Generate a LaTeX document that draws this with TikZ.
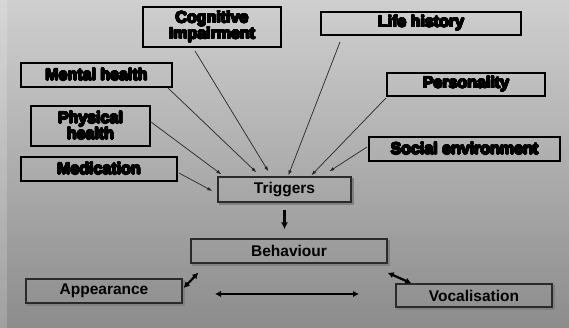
\documentclass[tikz,border=0pt]{standalone}
\usepackage{fontspec}
\setmainfont{Liberation Sans}
\usepackage{contour}
\contourlength{0.6pt}
\contournumber{24}
\usetikzlibrary{arrows.meta}
\definecolor{bgtop}{HTML}{CFCFCF}
\definecolor{bgmid}{HTML}{AAAAAA}
\definecolor{bgbot}{HTML}{8C8C8C}
\definecolor{lowborder}{HTML}{2A2A2A}
\newcommand{\hv}[1]{\contour{black}{#1}}
\begin{document}
\begin{tikzpicture}[x=1pt,y=-1pt,
  topbox/.style={draw=black, line width=2pt, rectangle, inner sep=0pt, align=center,
     font=\bfseries\fontsize{16}{16}\selectfont, text=black},
  lowbox/.style={draw=lowborder, line width=1.3pt, rectangle, inner sep=0pt,
     font=\bfseries\fontsize{15.5}{16}\selectfont, text=black},
  shadowline/.style={draw=black!50, line width=1.3pt},
  thinarrow/.style={draw=black!85, line width=0.7pt, -{Latex[length=5pt,width=3.5pt]}},
  thickarrow/.style={draw=black, line width=2.4pt, -{Latex[length=7pt,width=7pt]}},
  dblarrow/.style={draw=black, line width=2.2pt, {Latex[length=6pt,width=6.5pt]}-{Latex[length=6pt,width=6.5pt]}}
]
\useasboundingbox (0,0) rectangle (569,328);
% background
\fill[top color=bgtop, middle color=bgmid, bottom color=bgbot] (0,0) rectangle (569,328);
\fill[white, opacity=0.18] (0,0) rectangle (7,328);

% top boxes
\node[topbox, minimum width=138pt, minimum height=40pt] (cog) at (212,27) {\hv{Cognitive}\\\hv{Impairment}};
\node[topbox, minimum width=200pt, minimum height=23pt] (life) at (421,23.5) {\hv{Life history}};
\node[topbox, minimum width=151pt, minimum height=24pt] (mental) at (96.5,75) {\hv{Mental health}};
\node[topbox, minimum width=158pt, minimum height=23pt] (pers) at (466,84.5) {\hv{Personality}};
\node[topbox, minimum width=119pt, minimum height=40pt] (phys) at (90.5,126) {\hv{Physical}\\\hv{health}};
\node[topbox, minimum width=191pt, minimum height=24pt] (social) at (464.5,149) {\hv{Social environment}};
\node[topbox, minimum width=156pt, minimum height=24pt] (med) at (99,169) {\hv{Medication}};

% lower boxes
\node[lowbox, minimum width=133pt, minimum height=25pt] (trig) at (284.5,189.5) {Triggers};
\node[lowbox, minimum width=196pt, minimum height=24pt] (beh) at (289,251) {Behaviour};
\node[lowbox, minimum width=156pt, minimum height=24pt] (app) at (104,291) {Appearance};
\node[lowbox, minimum width=156pt, minimum height=23pt] (voc) at (474,295.5) {Vocalisation};
\foreach \n in {trig,beh,app,voc}{
  \draw[shadowline] ([shift={(1.3pt,-1.3pt)}]\n.north east) |- ([shift={(1.3pt,-1.3pt)}]\n.south west);
}

% arrows into Triggers
\draw[thinarrow] ([shift={(-17pt,-3pt)}]cog.south) -- ([shift={(51pt,5pt)}]trig.north west);
\draw[thinarrow] ([shift={(-5pt,0pt)}]mental.south east) -- ([shift={(39pt,4pt)}]trig.north west);
\draw[thinarrow] ([shift={(0pt,4pt)}]phys.east) -- ([shift={(4pt,2pt)}]trig.north west);
\draw[thinarrow] ([shift={(1pt,-4pt)}]med.east) -- ([shift={(-5pt,-1.5pt)}]trig.west);
\draw[thinarrow] ([shift={(20pt,-6pt)}]life.south west) -- ([shift={(71pt,1pt)}]trig.north west);
\draw[thinarrow] ([shift={(0pt,-1pt)}]pers.south west) -- ([shift={(94pt,1pt)}]trig.north west);
\draw[thinarrow] ([shift={(-1pt,2pt)}]social.west) -- ([shift={(112pt,5pt)}]trig.north west);

% lower arrows
\draw[thickarrow] ([yshift=-7pt]trig.south) -- ([yshift=9pt]trig.south |- beh.north);
\draw[dblarrow] ([shift={(1pt,3pt)}]app.east) -- ([shift={(8pt,-9pt)}]beh.south west);
\draw[dblarrow] ([shift={(0pt,-9pt)}]beh.south east) -- ([shift={(16pt,0pt)}]voc.north west);
\coordinate (hl) at (215,294);
\coordinate (hr) at (359,294);
\draw[dblarrow] (hl) -- (hr);
\end{tikzpicture}
\end{document}
